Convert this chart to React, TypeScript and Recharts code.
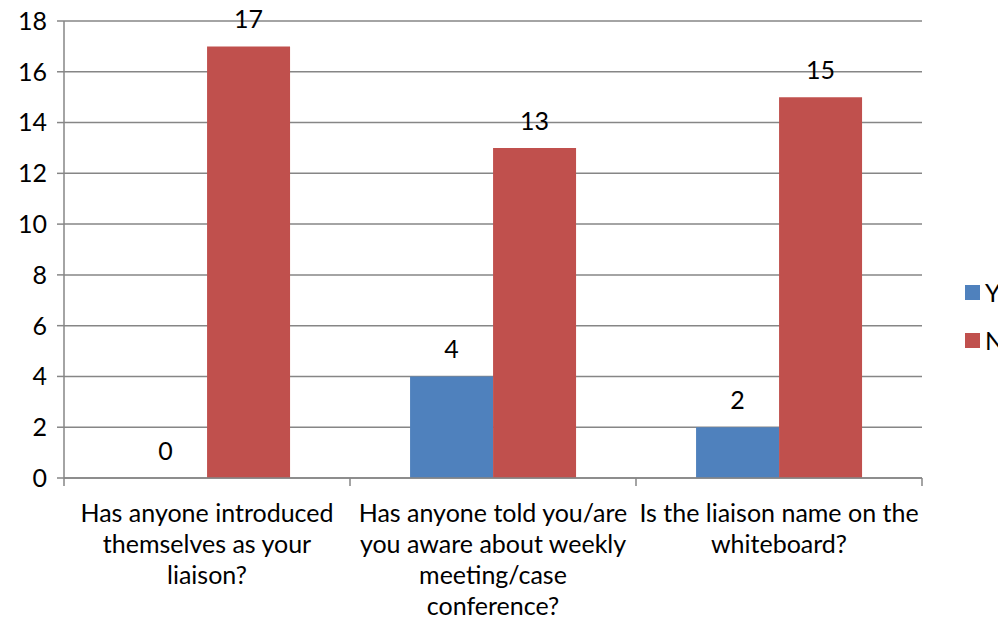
import React from 'react';
import { BarChart, Bar, XAxis, YAxis, CartesianGrid, Legend, LabelList } from 'recharts';

const categories = [
  'Has anyone introduced\nthemselves as your\nliaison?',
  'Has anyone told you/are\nyou aware about weekly\nmeeting/case\nconference?',
  'Is the liaison name on the\nwhiteboard?',
];
const yesValues = [0, 4, 2];
const noValues = [17, 13, 15];
const yTicks = [0, 2, 4, 6, 8, 10, 12, 14, 16, 18];

const series = [
  { key: 'yes', name: 'Yes', color: '#4F81BD' },
  { key: 'no', name: 'No', color: '#C0504D' },
];

const data = categories.map((c, i) => ({ name: c, yes: yesValues[i], no: noValues[i] }));

const W = 1040;
const H = 622;
const LEFT = 64;
const RIGHT = 118;
const GRID = '#868686';
const FONT = 'Lato, "Noto Sans", sans-serif';
const FS = 25;

const band = (W - LEFT - RIGHT) / categories.length;

const CategoryTick = (props: any) => {
  const { x, y, payload, index } = props;
  const lines = String(payload.value).split('\n');
  return (
    <g>
      <line x1={x - band / 2} x2={x - band / 2} y1={y} y2={y + 8} stroke={GRID} strokeWidth={1.5} />
      {index === categories.length - 1 && (
        <line x1={x + band / 2} x2={x + band / 2} y1={y} y2={y + 8} stroke={GRID} strokeWidth={1.5} />
      )}
      {lines.map((l, i) => (
        <text key={i} x={x} y={y + 44 + i * 31} textAnchor="middle" fill="#000" fontSize={FS} fontFamily={FONT}>
          {l}
        </text>
      ))}
    </g>
  );
};

const ValueLabel = (props: any) => {
  const { x, y, width, value } = props;
  if (x == null || y == null) return null;
  return (
    <text x={Number(x) + Number(width) / 2} y={Number(y) - 18} textAnchor="middle" fill="#000" fontSize={FS} fontFamily={FONT}>
      {String(value)}
    </text>
  );
};

const LegendBox = () => (
  <div style={{ fontFamily: FONT, fontSize: FS, color: '#000' }}>
    {series.map((s) => (
      <div key={s.key} style={{ display: 'flex', alignItems: 'center', height: 48, whiteSpace: 'nowrap' }}>
        <span style={{ display: 'inline-block', width: 15, height: 15, background: s.color, marginRight: 5 }} />
        {s.name}
      </div>
    ))}
  </div>
);

export default function App() {
  return (
    <div style={{ position: 'fixed', left: 0, top: 0, width: 998, height: 622, overflow: 'hidden', background: '#fff' }}>
      <BarChart
        width={W}
        height={H}
        data={data}
        margin={{ top: 21, right: RIGHT, left: 0, bottom: 0 }}
        barCategoryGap="21%"
        barGap={0}
      >
        <CartesianGrid vertical={false} stroke={GRID} strokeWidth={1.5} />
        <XAxis
          dataKey="name"
          height={144}
          axisLine={{ stroke: GRID, strokeWidth: 1.5 }}
          tickLine={false}
          tickSize={0}
          tickMargin={0}
          interval={0}
          tick={<CategoryTick />}
        />
        <YAxis
          width={LEFT}
          domain={[0, 18]}
          ticks={yTicks}
          interval={0}
          axisLine={{ stroke: GRID, strokeWidth: 1.5 }}
          tickLine={{ stroke: GRID, strokeWidth: 1.5 }}
          tickSize={7}
          tickMargin={10}
          tick={{ fill: '#000', fontSize: FS, fontFamily: FONT }}
        />
        <Legend
          layout="horizontal"
          verticalAlign="middle"
          align="center"
          content={<LegendBox />}
          wrapperStyle={{ left: 965, top: 268, width: 80, height: 96 }}
        />
        {series.map((s) => (
          <Bar
            key={s.key}
            dataKey={s.key}
            name={s.name}
            fill={s.color}
            minPointSize={0.01}
            isAnimationActive={false}
          >
            <LabelList dataKey={s.key} content={<ValueLabel />} />
          </Bar>
        ))}
      </BarChart>
    </div>
  );
}
